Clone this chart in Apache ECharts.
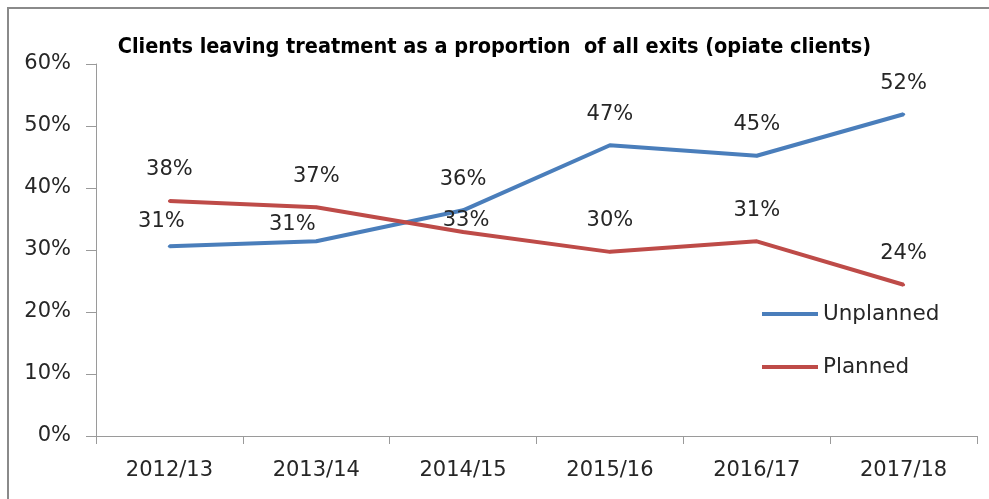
<!DOCTYPE html>
<html>
<head>
<meta charset="utf-8">
<script src="https://cdn.jsdelivr.net/npm/echarts@6/dist/echarts.min.js"></script>
<style>
  html, body { margin: 0; padding: 0; background: #fff; }
  #main { width: 989px; height: 499px; }
</style>
</head>
<body>
<div id="main"></div>
<script>
// 数据
const years = ['2012/13', '2013/14', '2014/15', '2015/16', '2016/17', '2017/18'];
const unplanned = [30.6, 31.4, 36.4, 46.9, 45.2, 51.9];
const planned = [37.9, 36.9, 32.9, 29.7, 31.4, 24.4];

const textColor = '#262626';
const axisColor = '#9a9a9a';
const fontFamily = 'DejaVu Sans';

// 标签手动移位的点（和原图一致）
const labelShift = {
  Unplanned: { 0: [-8, 6], 1: [-24, 14] },
  Planned: { 2: [3, 20] }
};

function buildData(name, values) {
  return values.map(function (v, i) {
    let item = { value: v };
    if (labelShift[name][i]) {
      item.label = { offset: labelShift[name][i] };
    }
    return item;
  });
}

function lineSeries(name, values, color) {
  return {
    name: name,
    type: 'line',
    data: buildData(name, values),
    symbol: 'circle',
    symbolSize: 3,
    showSymbol: true,
    color: color,
    itemStyle: { color: color, borderWidth: 0 },
    lineStyle: { width: 4, color: color },
    label: {
      show: true,
      position: 'top',
      distance: 19,
      fontFamily: fontFamily,
      fontSize: 21,
      color: textColor,
      formatter: function (p) { return Math.round(p.value) + '%'; }
    }
  };
}

const chart = echarts.init(document.getElementById('main'), null, { renderer: 'canvas' });

chart.setOption({
  animation: false,
  backgroundColor: '#fff',
  graphic: [{
    type: 'polyline',
    shape: { points: [[8, 499], [8, 8], [989, 8]] },
    style: { fill: null, stroke: '#8a8a8a', lineWidth: 2 },
    silent: true
  }],
  title: {
    text: 'Clients leaving treatment as a proportion  of all exits (opiate clients)',
    left: 'center',
    top: 31,
    textStyle: {
      fontFamily: 'DejaVu Sans Condensed',
      fontWeight: 'bold',
      fontSize: 21.5,
      color: '#000'
    }
  },
  legend: {
    orient: 'vertical',
    left: 757,
    top: 298,
    icon: 'rect',
    itemWidth: 56,
    itemHeight: 4,
    itemGap: 31,
    data: ['Unplanned', 'Planned'],
    textStyle: { fontFamily: fontFamily, fontSize: 21.5, color: textColor }
  },
  grid: { left: 96, right: 12, top: 64, bottom: 63 },
  xAxis: {
    type: 'category',
    data: years,
    boundaryGap: true,
    axisLine: { lineStyle: { color: axisColor, width: 1 } },
    axisTick: { show: true, length: 8, lineStyle: { color: axisColor } },
    axisLabel: { margin: 24, fontFamily: fontFamily, fontSize: 21, color: textColor }
  },
  yAxis: {
    type: 'value',
    min: 0,
    max: 60,
    interval: 10,
    axisLine: { show: true, lineStyle: { color: axisColor, width: 1 } },
    axisTick: { show: true, length: 10, lineStyle: { color: axisColor } },
    splitLine: { show: false },
    axisLabel: {
      margin: 25,
      fontFamily: fontFamily,
      fontSize: 21,
      color: textColor,
      formatter: function (v) { return v + '%'; }
    }
  },
  series: [
    lineSeries('Unplanned', unplanned, '#4a7ebb'),
    lineSeries('Planned', planned, '#be4b48')
  ]
});
</script>
</body>
</html>
